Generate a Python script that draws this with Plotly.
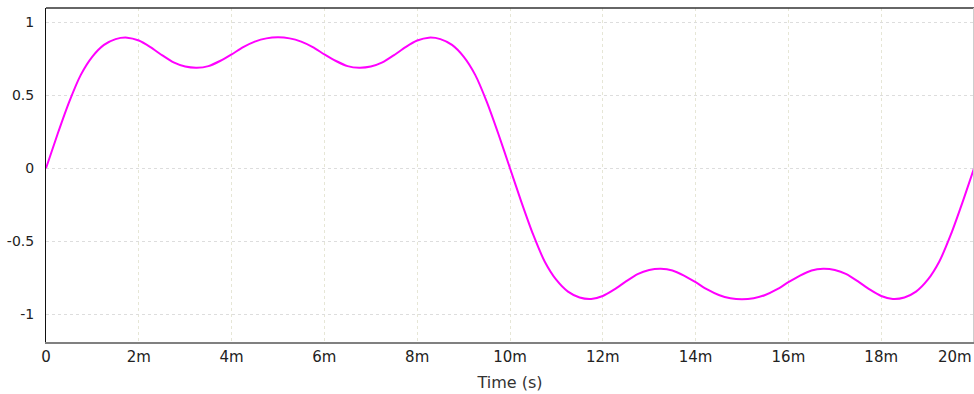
import plotly.graph_objects as go

# Sample times (seconds)
time_s = [
    0.00000, 0.00025, 0.00050, 0.00075, 0.00100, 0.00125, 0.00150, 0.00175,
    0.00200, 0.00225, 0.00250, 0.00275, 0.00300, 0.00325, 0.00350, 0.00375,
    0.00400, 0.00425, 0.00450, 0.00475, 0.00500, 0.00525, 0.00550, 0.00575,
    0.00600, 0.00625, 0.00650, 0.00675, 0.00700, 0.00725, 0.00750, 0.00775,
    0.00800, 0.00825, 0.00850, 0.00875, 0.00900, 0.00925, 0.00950, 0.00975,
    0.01000, 0.01025, 0.01050, 0.01075, 0.01100, 0.01125, 0.01150, 0.01175,
    0.01200, 0.01225, 0.01250, 0.01275, 0.01300, 0.01325, 0.01350, 0.01375,
    0.01400, 0.01425, 0.01450, 0.01475, 0.01500, 0.01525, 0.01550, 0.01575,
    0.01600, 0.01625, 0.01650, 0.01675, 0.01700, 0.01725, 0.01750, 0.01775,
    0.01800, 0.01825, 0.01850, 0.01875, 0.01900, 0.01925, 0.01950, 0.01975,
    0.02000,
]

# Signal values
signal = [
    0.000, 0.235, 0.455, 0.640, 0.765, 0.845, 0.885, 0.895,
    0.875, 0.830, 0.775, 0.725, 0.697, 0.689, 0.700, 0.735,
    0.780, 0.830, 0.868, 0.890, 0.897, 0.890, 0.868, 0.830,
    0.780, 0.735, 0.700, 0.689, 0.697, 0.725, 0.775, 0.830,
    0.875, 0.895, 0.885, 0.845, 0.765, 0.640, 0.455, 0.235,
    0.000, -0.235, -0.455, -0.640, -0.765, -0.845, -0.885, -0.895,
    -0.875, -0.830, -0.775, -0.725, -0.697, -0.689, -0.700, -0.735,
    -0.780, -0.830, -0.868, -0.890, -0.897, -0.890, -0.868, -0.830,
    -0.780, -0.735, -0.700, -0.689, -0.697, -0.725, -0.775, -0.830,
    -0.875, -0.895, -0.885, -0.845, -0.765, -0.640, -0.455, -0.235,
    0.000,
]

x_tick_vals = [0, 0.002, 0.004, 0.006, 0.008, 0.010, 0.012, 0.014, 0.016, 0.018]
x_tick_text = ["0", "2m", "4m", "6m", "8m", "10m", "12m", "14m", "16m", "18m"]
x_last_label = "20m"
y_tick_vals = [-1, -0.5, 0, 0.5, 1]
y_tick_text = ["-1", "-0.5", "0", "0.5", "1"]

fig = go.Figure()
fig.add_trace(go.Scatter(
    x=time_s, y=signal, mode="lines",
    line=dict(color="#ff00ff", width=2, shape="spline", smoothing=0.6),
    hoverinfo="skip", showlegend=False,
))

font = "DejaVu Sans, Verdana, sans-serif"
fig.update_layout(
    width=974, height=394,
    margin=dict(l=46, r=0, t=8, b=52, autoexpand=False),
    paper_bgcolor="white", plot_bgcolor="white",
    font=dict(family=font, color="#222222"),
    xaxis=dict(
        range=[0, 0.020], tickvals=x_tick_vals, ticktext=x_tick_text,
        automargin=False,
        showgrid=True, gridcolor="#e6e6d6", griddash="3px,3px", gridwidth=1,
        zeroline=False, showline=True, linecolor="#808080", linewidth=2,
        ticks="", ticklen=0,
        tickfont=dict(size=15, color="#222222", family=font),
        title=dict(text="Time (s)", font=dict(size=16, color="#333333", family=font), standoff=12),
        fixedrange=True,
    ),
    yaxis=dict(
        range=[-1.190, 1.098], tickvals=y_tick_vals, ticktext=y_tick_text,
        automargin=False,
        showgrid=True, gridcolor="#dddddd", griddash="3px,3px", gridwidth=1,
        zeroline=False, showline=True, linecolor="#111111", linewidth=1,
        ticks="outside", ticklen=8, tickcolor="rgba(0,0,0,0)",
        tickfont=dict(size=14, color="#222222", family=font),
        fixedrange=True,
    ),
    shapes=[
        dict(type="line", xref="paper", yref="paper", x0=0, x1=1, y0=1, y1=1,
             line=dict(color="#333333", width=1.5)),
        dict(type="line", xref="paper", yref="paper", x0=0.9995, x1=0.9995, y0=0, y1=1,
             line=dict(color="#cccccc", width=1)),
    ],
    annotations=[
        dict(text=x_last_label, x=0.020, xref="x", xanchor="right",
             y=0, yref="paper", yanchor="top", yshift=-4, showarrow=False,
             font=dict(size=15, color="#222222", family=font)),
    ],
)

fig.write_html(
    "out.html",
    config={"displayModeBar": False},
    post_script="document.body.style.margin='0';document.body.style.padding='0';document.body.style.overflow='hidden';",
)
